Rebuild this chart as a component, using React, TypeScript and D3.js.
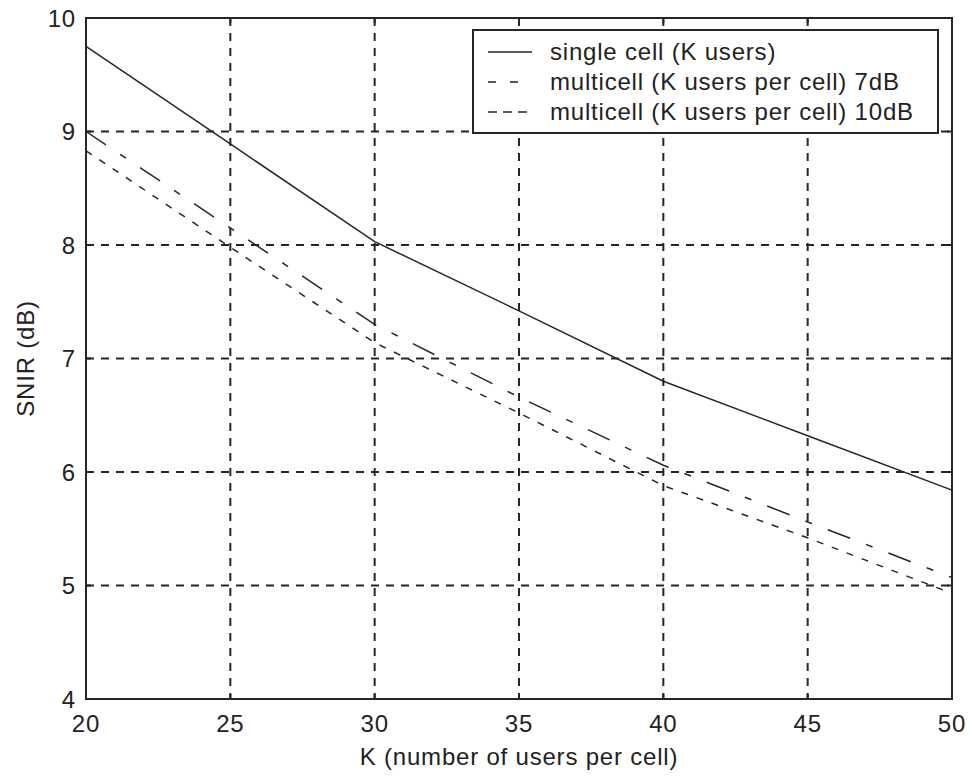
import React from "react";
import * as d3 from "d3";

const kValues = [20, 25, 30, 35, 40, 45, 50];
const singleCell = [9.75, 8.89, 8.03, 7.42, 6.8, 6.32, 5.84];
const multi7dB = [9.0, 8.15, 7.3, 6.66, 6.06, 5.56, 5.07];
const multi10dB = [8.83, 7.98, 7.14, 6.52, 5.88, 5.42, 4.93];
const xTicks = [20, 25, 30, 35, 40, 45, 50];
const yTicks = [4, 5, 6, 7, 8, 9, 10];
const legendLabels = [
  "single cell (K users)",
  "multicell (K users per cell) 7dB",
  "multicell (K users per cell) 10dB",
];

const W = 969;
const H = 778;
const L = 86, R = 952, T = 18, B = 699;
const FONT = "Arial, 'Liberation Sans', Helvetica, sans-serif";
const INK = "#262626";

export default function App() {
  const x = d3.scaleLinear().domain([20, 50]).range([L, R]);
  const y = d3.scaleLinear().domain([4, 10]).range([B, T]);
  const line = d3
    .line<[number, number]>()
    .x((d) => x(d[0]))
    .y((d) => y(d[1]));

  const series = [
    { vals: singleCell, dash: undefined as string | undefined, legendDash: undefined as string | undefined },
    { vals: multi7dB, dash: "24,17,7,17", legendDash: "8,14" },
    { vals: multi10dB, dash: "7,9", legendDash: "9,6" },
  ];

  const textStyle = { fontFamily: FONT, fontSize: 24, letterSpacing: 0.8, fill: "#222" } as const;

  return (
    <svg
      width={W}
      height={H}
      style={{ position: "absolute", left: 0, top: 0, background: "#fff" }}
    >
      <rect x={0} y={0} width={W} height={H} fill="#fff" />
      {/* grid */}
      {xTicks
        .filter((t) => t !== 20 && t !== 50)
        .map((t) => (
          <line key={"gx" + t} x1={x(t)} x2={x(t)} y1={T} y2={B} stroke={INK} strokeWidth={2} strokeDasharray="8,7" />
        ))}
      {yTicks
        .filter((t) => t !== 4 && t !== 10)
        .map((t) => (
          <line key={"gy" + t} x1={L} x2={R} y1={y(t)} y2={y(t)} stroke={INK} strokeWidth={2} strokeDasharray="8,7" />
        ))}
      {/* ticks */}
      {xTicks.map((t) => (
        <g key={"tx" + t}>
          <line x1={x(t)} x2={x(t)} y1={B} y2={B - 5} stroke={INK} strokeWidth={2} />
          <line x1={x(t)} x2={x(t)} y1={T} y2={T + 5} stroke={INK} strokeWidth={2} />
          <text x={x(t)} y={723} textAnchor="middle" dominantBaseline="central" style={textStyle}>
            {t}
          </text>
        </g>
      ))}
      {yTicks.map((t) => (
        <g key={"ty" + t}>
          <line x1={L} x2={L + 5} y1={y(t)} y2={y(t)} stroke={INK} strokeWidth={2} />
          <line x1={R} x2={R - 5} y1={y(t)} y2={y(t)} stroke={INK} strokeWidth={2} />
          <text x={76} y={y(t)} textAnchor="end" dominantBaseline="central" style={textStyle}>
            {t}
          </text>
        </g>
      ))}
      {/* data */}
      {series.map((s, i) => (
        <path
          key={"s" + i}
          d={line(kValues.map((k, j) => [k, s.vals[j]] as [number, number])) || ""}
          fill="none"
          stroke={INK}
          strokeWidth={1.5}
          strokeDasharray={s.dash}
        />
      ))}
      {/* axes box */}
      <rect x={L} y={T} width={R - L} height={B - T} fill="none" stroke={INK} strokeWidth={2} />
      {/* legend */}
      <rect x={473} y={30} width={465} height={103} fill="#fff" stroke={INK} strokeWidth={2} />
      {legendLabels.map((lab, i) => {
        const base = 60 + i * 30;
        return (
          <g key={"lg" + i}>
            <line
              x1={488}
              x2={532}
              y1={base - 8}
              y2={base - 8}
              stroke={INK}
              strokeWidth={1.5}
              strokeDasharray={series[i].legendDash}
            />
            <text x={550} y={base} style={textStyle}>
              {lab}
            </text>
          </g>
        );
      })}
      {/* axis labels */}
      <text x={(L + R) / 2} y={765} textAnchor="middle" style={textStyle}>
        K (number of users per cell)
      </text>
      <text
        transform={`translate(34,${(T + B) / 2}) rotate(-90)`}
        textAnchor="middle"
        style={textStyle}
      >
        SNIR (dB)
      </text>
    </svg>
  );
}
